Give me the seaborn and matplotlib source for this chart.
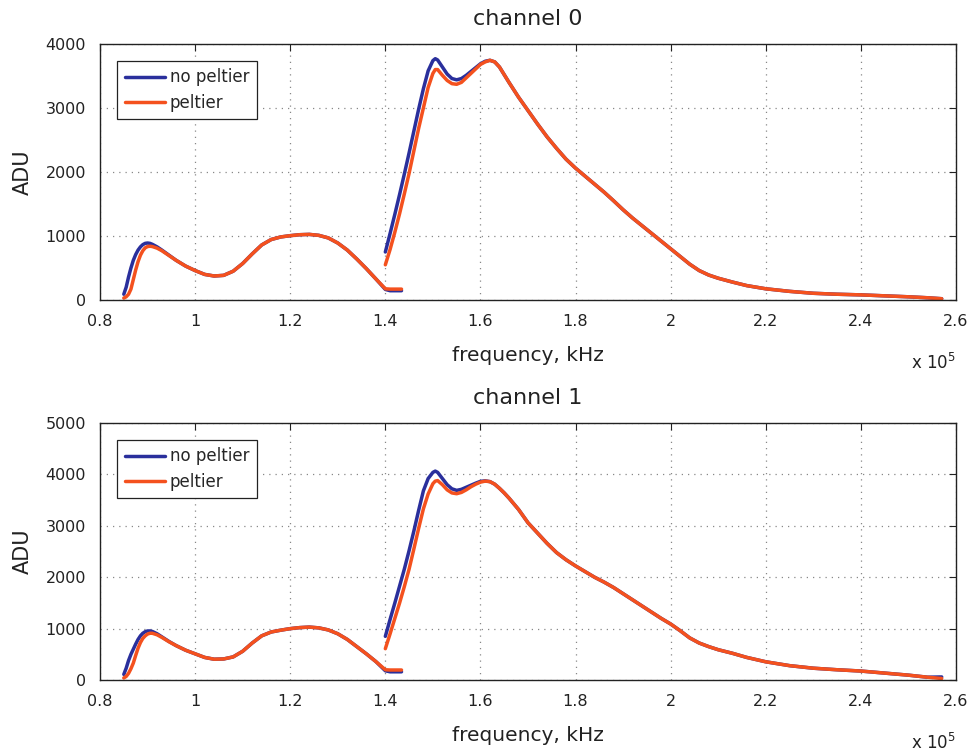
import numpy as np
import pandas as pd
import matplotlib
matplotlib.use("Agg")
import matplotlib.pyplot as plt
import seaborn as sns

# ---------------- data (frequency in units of 1e5) ----------------
seg_a_x = [0.850, 0.855, 0.860, 0.865, 0.870, 0.875, 0.880, 0.885, 0.890, 0.895,
           0.900, 0.905, 0.910, 0.920, 0.930, 0.945, 0.960, 0.980, 1.000, 1.020,
           1.040, 1.060, 1.080, 1.100, 1.120, 1.140, 1.160, 1.180, 1.200, 1.220,
           1.240, 1.260, 1.280, 1.300, 1.320, 1.340, 1.360, 1.380, 1.400, 1.410,
           1.420, 1.434]

seg_b_x = [1.400, 1.410, 1.420, 1.430, 1.440, 1.450, 1.460, 1.470, 1.480, 1.490,
           1.500, 1.505, 1.510, 1.520, 1.530, 1.540, 1.550, 1.560, 1.570, 1.580,
           1.590, 1.600, 1.610, 1.620, 1.630, 1.640, 1.650, 1.660, 1.680, 1.700,
           1.720, 1.740, 1.760, 1.780, 1.800, 1.820, 1.840, 1.860, 1.880, 1.900,
           1.920, 1.940, 1.960, 1.980, 2.000, 2.020, 2.040, 2.060, 2.080, 2.100,
           2.130, 2.160, 2.200, 2.250, 2.300, 2.350, 2.400, 2.450, 2.500, 2.540,
           2.570]

# channel 0
ch0_nop_a = [90, 200, 360, 500, 620, 710, 780, 830, 865, 885,
             890, 885, 870, 830, 780, 700, 620, 530, 460, 400,
             375, 385, 450, 570, 720, 860, 945, 985, 1005, 1020,
             1025, 1010, 970, 890, 780, 640, 490, 330, 165, 145,
             145, 145]
ch0_pel_a = [30, 50, 90, 170, 320, 470, 600, 700, 770, 815,
             835, 840, 835, 810, 770, 695, 620, 530, 460, 400,
             375, 385, 450, 570, 720, 860, 945, 985, 1005, 1020,
             1025, 1010, 970, 890, 780, 640, 490, 330, 175, 170,
             170, 170]
ch0_nop_b = [750, 1040, 1340, 1650, 1970, 2300, 2640, 2980, 3300, 3580,
             3740, 3770, 3750, 3640, 3530, 3460, 3440, 3460, 3510, 3570,
             3630, 3690, 3730, 3745, 3720, 3640, 3520, 3400, 3170, 2960,
             2750, 2550, 2370, 2200, 2060, 1935, 1810, 1685, 1550, 1410,
             1280, 1160, 1040, 920, 800, 680, 560, 460, 390, 340,
             280, 225, 175, 135, 105, 90, 80, 65, 50, 35,
             20]
ch0_pel_b = [550, 790, 1060, 1350, 1660, 1980, 2330, 2680, 3000, 3320,
             3540, 3600, 3600, 3510, 3430, 3380, 3370, 3400, 3470, 3540,
             3610, 3680, 3720, 3745, 3720, 3640, 3520, 3400, 3170, 2960,
             2750, 2550, 2370, 2200, 2060, 1935, 1810, 1685, 1550, 1410,
             1280, 1160, 1040, 920, 800, 680, 560, 460, 390, 340,
             280, 225, 175, 135, 105, 90, 80, 65, 50, 35,
             20]

# channel 1
ch1_nop_a = [110, 230, 380, 500, 600, 700, 790, 860, 910, 940,
             955, 955, 945, 900, 840, 750, 670, 580, 510, 440,
             405, 410, 450, 560, 720, 860, 935, 970, 1000, 1020,
             1030, 1015, 975, 900, 790, 650, 510, 360, 180, 160,
             160, 160]
ch1_pel_a = [40, 70, 130, 220, 330, 480, 620, 730, 810, 860,
             895, 910, 910, 880, 830, 745, 670, 580, 510, 440,
             405, 410, 450, 560, 720, 860, 935, 970, 1000, 1020,
             1030, 1015, 975, 900, 790, 650, 510, 360, 200, 195,
             195, 195]
ch1_nop_b = [850, 1180, 1500, 1830, 2160, 2520, 2900, 3300, 3680, 3920,
             4040, 4065, 4040, 3920, 3800, 3720, 3690, 3710, 3750, 3790,
             3830, 3865, 3875, 3860, 3810, 3730, 3640, 3540, 3320, 3060,
             2860, 2660, 2480, 2340, 2220, 2110, 2000, 1905, 1800, 1680,
             1560, 1440, 1320, 1200, 1090, 960, 820, 720, 650, 590,
             520, 440, 355, 280, 230, 200, 175, 135, 95, 55,
             60]
ch1_pel_b = [610, 900, 1200, 1500, 1820, 2160, 2550, 2950, 3330, 3620,
             3820, 3870, 3880, 3800, 3700, 3640, 3625, 3650, 3700, 3760,
             3810, 3850, 3870, 3860, 3810, 3730, 3640, 3540, 3320, 3060,
             2860, 2660, 2480, 2340, 2220, 2110, 2000, 1905, 1800, 1680,
             1560, 1440, 1320, 1200, 1090, 960, 820, 720, 650, 590,
             520, 440, 355, 280, 230, 200, 175, 135, 95, 55,
             30]

series_names = ["no peltier", "peltier"]
titles = ["channel 0", "channel 1"]
x_ticks = [0.8, 1.0, 1.2, 1.4, 1.6, 1.8, 2.0, 2.2, 2.4, 2.6]
x_tick_labels = ["0.8", "1", "1.2", "1.4", "1.6", "1.8", "2", "2.2", "2.4", "2.6"]
y_max = [4000, 5000]

palette = {"no peltier": "#2a2f9c", "peltier": "#f4511e"}


def build_frame(nop_a, pel_a, nop_b, pel_b):
    rows = []
    for name, ya, yb in [("no peltier", nop_a, nop_b), ("peltier", pel_a, pel_b)]:
        for x, y in zip(seg_a_x, ya):
            rows.append((x * 1e5, y, name, name + "_a"))
        for x, y in zip(seg_b_x, yb):
            rows.append((x * 1e5, y, name, name + "_b"))
    return pd.DataFrame(rows, columns=["freq", "adu", "series", "segment"])


frames = [build_frame(ch0_nop_a, ch0_pel_a, ch0_nop_b, ch0_pel_b),
          build_frame(ch1_nop_a, ch1_pel_a, ch1_nop_b, ch1_pel_b)]

sns.set_theme(style="white")
plt.rcParams["font.family"] = ["DejaVu Sans"]
plt.rcParams.update({
    "xtick.direction": "in", "ytick.direction": "in",
    "xtick.top": True, "ytick.right": True,
    "xtick.major.size": 5, "ytick.major.size": 5,
    "xtick.major.width": 0.8, "ytick.major.width": 0.8,
    "axes.edgecolor": "#222222", "axes.linewidth": 1.0,
    "xtick.color": "#222222", "ytick.color": "#222222",
    "xtick.labelcolor": "#222222", "ytick.labelcolor": "#222222",
})

fig = plt.figure(figsize=(9.73, 7.53), dpi=100)
axes_rects = [[0.1028, 0.6016, 0.8797, 0.3400],
              [0.1028, 0.0969, 0.8797, 0.3413]]

for i, df in enumerate(frames):
    ax = fig.add_axes(axes_rects[i])
    sns.lineplot(data=df, x="freq", y="adu", hue="series", units="segment",
                 estimator=None, sort=False, palette=palette,
                 hue_order=series_names, linewidth=2.5, ax=ax)
    ax.set_xlim(0.8e5, 2.6e5)
    ax.set_ylim(0, y_max[i])
    ax.set_xticks([t * 1e5 for t in x_ticks])
    ax.set_xticklabels(x_tick_labels)
    ax.set_yticks(np.arange(0, y_max[i] + 1, 1000))
    ax.tick_params(labelsize=11.5, pad=10)
    ax.grid(True, color="#888888", linestyle=(0, (1, 4)), linewidth=0.9)
    for sp in ax.spines.values():
        sp.set_visible(True)
        sp.set_color("#222222")
    ax.set_title(titles[i], fontsize=16, pad=14, color="#222222")
    ax.set_xlabel("frequency, kHz", fontsize=14.5, labelpad=12, color="#222222")
    ax.set_ylabel("ADU", fontsize=15, labelpad=9, color="#222222")
    ax.annotate("x 10$^{5}$", xy=(1, 0), xycoords="axes fraction",
                xytext=(0, -45), textcoords="offset points",
                ha="right", va="center", fontsize=12, color="#222222")
    handles, labels = ax.get_legend_handles_labels()
    leg = ax.legend(handles, labels, loc="upper left", bbox_to_anchor=(0.0199, 0.934),
                    fontsize=12, frameon=True, fancybox=False, framealpha=1,
                    edgecolor="#222222", handlelength=2.4, handletextpad=0.3,
                    borderpad=0.45, labelspacing=0.45, borderaxespad=0)
    leg.get_frame().set_linewidth(0.9)

fig.savefig("out.png", dpi=100)
